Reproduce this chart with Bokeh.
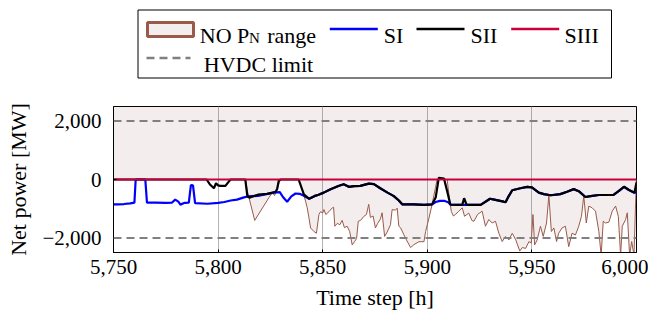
from bokeh.plotting import figure
from bokeh.models import Range1d, Span, FixedTicker, CustomJSTickFormatter
from bokeh.layouts import column
from bokeh.core.properties import value
from bokeh.embed import file_html
from bokeh.resources import INLINE

FONT = "Liberation Serif"

# ---------------- data ----------------
X_TICKS = [5750, 5800, 5850, 5900, 5950, 6000]
Y_TICKS = [-2000, 0, 2000]
HVDC_LIMIT = 2000
NOPN_UPPER = 2700

# SI (blue)
si_t = [5750, 5752, 5755, 5758, 5760, 5760.6, 5765.2, 5766, 5770, 5775, 5778, 5779.5, 5781,
        5782, 5784, 5786, 5787, 5788, 5789, 5795, 5800, 5803, 5806, 5809, 5812, 5814, 5816,
        5819, 5823, 5826, 5828, 5829.5, 5831, 5833, 5835, 5837, 5839, 5841, 5843.5, 5846,
        5848, 5850.5, 5853.5, 5857.5, 5860, 5862.5, 5865, 5868, 5872, 5874.5, 5877.5, 5881,
        5884, 5886.4, 5888, 5893.5, 5898.5, 5902.3, 5904, 5906, 5908, 5910, 5911, 5916.7,
        5918.8, 5925.5, 5930, 5932, 5936.5, 5937.4, 5939, 5940.6, 5944.5, 5947.8, 5950,
        5953.3, 5955.7, 5959, 5963.6, 5966.8, 5970, 5972.4, 5975.6, 5978, 5982, 5989,
        5991.6, 5994, 5996.4, 5999, 6000]
si_v = [-850, -850, -840, -820, -790, 0, 0, -790, -790, -800, -790, -690, -760,
        -860, -800, -790, -190, -200, -810, -830, -800, -770, -720, -690, -620, -580, -570,
        -560, -500, -460, -440, -430, -600, -760, -580, -480, -490, -560, -660, -570,
        -520, -450, -340, -220, -160, -250, -230, -220, -140, -160, -300, -450,
        -570, -720, -850, -850, -870, -850, -770, -730, -730, -780, -860, -870,
        -870, -870, -660, -690, -760, -780, -560, -370, -300, -250, -270,
        -450, -500, -540, -500, -420, -330, -400, -600, -570, -530, -530,
        -390, -250, -360, -450, -450]

# SII (black)
sii_t = [5750, 5794.5, 5796, 5798, 5799, 5800, 5801, 5803.5, 5805, 5806, 5813, 5814, 5815,
         5819, 5823.5, 5827.5, 5828.2, 5829, 5830, 5838.5, 5841, 5843.5, 5846, 5848, 5850.5,
         5853.5, 5857.5, 5860, 5862.5, 5865, 5868, 5872, 5874.5, 5877.5, 5881, 5884, 5886.4,
         5888, 5893.5, 5898.5, 5902.3, 5904, 5905.5, 5908, 5909.5, 5911, 5916.7, 5917.6,
         5918.8, 5925.5, 5930, 5932, 5936.5, 5937.4, 5939, 5940.6, 5944.5, 5947.8, 5950,
         5953.3, 5955.7, 5959, 5963.6, 5966.8, 5970, 5972.4, 5975.6, 5978, 5982, 5989,
         5991.6, 5994, 5996.4, 5999, 6000]
sii_v = [0, 0, -160, -300, -130, -200, -220, -220, -80, 0, 0, -580, -620,
         -520, -490, -420, -330, -40, 0, 0, -510, -660, -570, -520, -450,
         -340, -220, -160, -250, -230, -220, -140, -160, -300, -450, -570, -720,
         -850, -850, -870, -850, -620, 60, 30, -400, -860, -870, -640,
         -870, -870, -660, -690, -760, -780, -560, -370, -300, -250, -270,
         -450, -500, -540, -500, -420, -330, -400, -600, -570, -530, -530,
         -390, -250, -360, -450, -100]

# SIII (red)
siii_t = [5750, 6000]
siii_v = [0, 0]

# NO P_N range, lower bound (brown)
nopn_t = [5750, 5813, 5814, 5817.5, 5824.3, 5825.9, 5827, 5828.5, 5829.5, 5838.6, 5840,
          5841.8, 5842.6, 5843.4, 5844.2, 5845.8, 5847, 5848.2, 5849, 5850, 5850.6, 5851.5,
          5853, 5854.6, 5855.2, 5855.8, 5857, 5858.2, 5859.3, 5860.4, 5861.7, 5862.9, 5864.1,
          5865.2, 5866.2, 5867, 5868.1, 5869.7, 5870.9, 5872, 5872.8, 5874.1, 5875.2, 5876.3,
          5877.6, 5878.4, 5879.6, 5880.8, 5882.4, 5883.2, 5884.8, 5885.6, 5886.4, 5887.2,
          5889.6, 5892, 5893.6, 5896, 5898.4, 5899.2, 5900.8, 5902.3, 5903.9, 5904.7, 5909.5,
          5910.3, 5911.5, 5912.5, 5913.4, 5915.1, 5916.7, 5917.8, 5919.8, 5921.4, 5922.3,
          5924, 5926.2, 5927.8, 5929.4, 5931, 5932.6, 5934.2, 5935.8, 5937.4, 5939, 5940.6,
          5942.3, 5944.2, 5945.4, 5947, 5948.6, 5949.7, 5950.5, 5951.3, 5952.5, 5954.1,
          5955.4, 5957, 5958.1, 5959.3, 5960.5, 5961.8, 5962.8, 5964.4, 5966, 5967.6, 5969.2,
          5970.8, 5972.4, 5973.7, 5974.8, 5976, 5977.2, 5978.8, 5980.4, 5982, 5983.1, 5984.1,
          5985.2, 5986.8, 5988.4, 5990, 5991.3, 5992.4, 5993.2, 5994.8, 5995.6, 5996.7,
          5997.7, 5998.8, 5999.9, 6000]
nopn_lo = [0, 0, -400, -1400, -620, -450, -550, -300, 0, 0, -300,
           -740, -970, -1300, -1660, -1780, -1840, -1200, -1100, -1150, -1030, -1200,
           -1100, -970, -950, -1600, -1500, -1550, -1400, -1650, -1600, -1780, -2240,
           -2130, -2020, -1430, -1400, -1260, -1200, -850, -1300, -1250, -1660, -1500,
           -1350, -1140, -1950, -1800, -1550, -1030, -1050, -980, -1600, -1650,
           -2010, -2330, -2230, -2130, -2130, -1780, -1320, -850, -280, 0, 0,
           -500, -1100, -1250, -1200, -1085, -970, -1260, -1150, -1410, -1430,
           -1200, -1085, -1600, -1370, -1490, -1430, -1840, -2125, -1950, -2070, -1840,
           -2070, -2450, -2330, -2360, -2125, -2180, -1200, -2240, -2070, -1600,
           -1950, -1490, -540, -1780, -1660, -2125, -1840, -1660, -1600, -2300, -1840,
           -1900, -1600, -1260, -565, -1490, -910, -970, -1085, -1780, -2600, -1430,
           -1490, -1460, -1085, -910, -1260, -2600, -1600, -1370, -1140, -2600,
           -2125, -2600, -50, 0]

# ---------------- styles ----------------
C_SI = "#0000ff"
C_SII = "#000000"
C_SIII = "#c8003c"
C_BROWN = "#9a5a4a"
C_FILL = "#8b4a4a"
C_HVDC = "#808080"

fmt = CustomJSTickFormatter(code="""
var s = Math.abs(tick).toFixed(0).replace(/\\B(?=(\\d{3})+(?!\\d))/g, ",");
return (tick < 0 ? "\\u2212" : "") + s;
""")

p = figure(frame_width=523, frame_height=146, x_range=Range1d(5750, 6000),
           y_range=Range1d(-2500, 2500),
           output_backend="svg", toolbar_location=None,
           min_border_left=113, min_border_right=12, min_border_top=8, min_border_bottom=60)
p.frame_align = False

p.varea(x=nopn_t, y1=nopn_lo, y2=[NOPN_UPPER] * len(nopn_t), fill_color=C_FILL, fill_alpha=0.1)
p.line(nopn_t, nopn_lo, line_color=C_BROWN, line_width=1)
p.line(si_t, si_v, line_color=C_SI, line_width=2.2)
p.line(sii_t, sii_v, line_color=C_SII, line_width=2.2)
p.line(siii_t, siii_v, line_color=C_SIII, line_width=2.2)

for loc in (HVDC_LIMIT, -HVDC_LIMIT):
    p.add_layout(Span(location=loc, dimension="width", line_color=C_HVDC,
                      line_width=2, line_dash="8 5"))

p.outline_line_color = "black"
p.outline_line_width = 1
p.outline_line_alpha = 1

p.xaxis.ticker = FixedTicker(ticks=X_TICKS)
p.yaxis.ticker = FixedTicker(ticks=Y_TICKS)
p.xgrid.ticker = FixedTicker(ticks=X_TICKS)
p.xaxis.formatter = fmt
p.yaxis.formatter = fmt
p.xgrid.grid_line_color = "#b4b4b4"
p.ygrid.grid_line_color = None

for ax in (p.xaxis[0], p.yaxis[0]):
    ax.axis_line_color = "black"
    ax.major_tick_in = 3
    ax.major_tick_out = 0
    ax.minor_tick_line_color = None
    ax.major_label_text_font = FONT
    ax.major_label_text_font_size = "21px"
    ax.major_label_text_color = "black"
    ax.axis_label_text_font = FONT
    ax.axis_label_text_font_size = "22px"
    ax.axis_label_text_font_style = "normal"
    ax.axis_label_text_color = "black"

p.xaxis.axis_label = "Time step [h]"
p.yaxis.axis_label = "Net power [MW]"
p.xaxis.major_label_standoff = 7
p.yaxis.major_label_standoff = 12
p.xaxis.axis_label_standoff = 8
p.yaxis.axis_label_standoff = 8

# ---------------- legend (separate strip above) ----------------
lg = figure(frame_width=640, frame_height=98, x_range=Range1d(0, 640), y_range=Range1d(98, 0),
            output_backend="svg", toolbar_location=None, x_axis_type=None, y_axis_type=None,
            min_border=0)
lg.frame_align = False
lg.outline_line_color = None
lg.grid.visible = False

lg.quad(left=[137.5], right=[611], top=[9.5], bottom=[77.5], fill_color=None,
        line_color="black", line_width=1)
# row 1
lg.quad(left=[147], right=[193], top=[22], bottom=[36], fill_color=C_FILL, fill_alpha=0.1,
        line_color=C_BROWN, line_width=3)
lg.text(x=[199.3], y=[35], text=["NO P"], text_font=value(FONT), text_font_size="22px",
        text_baseline="alphabetic", text_align="left", text_color="black")
lg.text(x=[248.5], y=[37], text=["N"], text_font=value(FONT), text_font_size="15px",
        text_baseline="alphabetic", text_align="left", text_color="black")
lg.text(x=[266.7], y=[35], text=["range"], text_font=value(FONT), text_font_size="22px",
        text_baseline="alphabetic", text_align="left", text_color="black")
for x0, x1, tx, col, lab in ((329.3, 377.3, 383.3, C_SI, "SI"),
                             (416, 464, 470, C_SII, "SII"),
                             (510.7, 558.7, 564, C_SIII, "SIII")):
    lg.line([x0, x1], [28.5, 28.5], line_color=col, line_width=2.5)
    lg.text(x=[tx], y=[35], text=[lab], text_font=value(FONT), text_font_size="22px",
            text_baseline="alphabetic", text_align="left", text_color="black")
# row 2
lg.line([146, 190], [57.5, 57.5], line_color=C_HVDC, line_width=2.5, line_dash="8 5")
lg.text(x=[203.3], y=[64], text=["HVDC limit"], text_font=value(FONT), text_font_size="22px",
        text_baseline="alphabetic", text_align="left", text_color="black")

layout = column(lg, p, spacing=0)
open("out.html", "w").write(file_html(layout, INLINE))
